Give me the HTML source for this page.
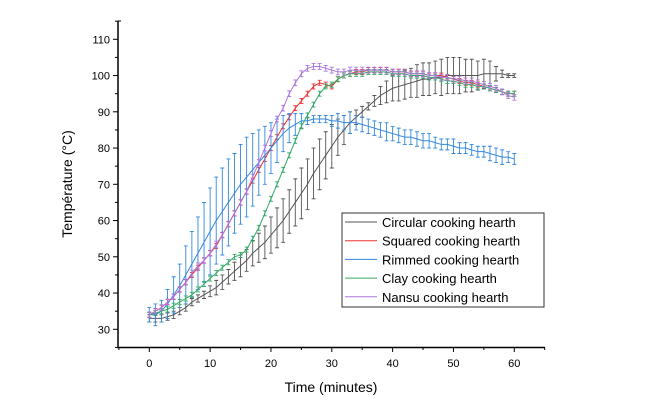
<!DOCTYPE html>
<html><head><meta charset="utf-8"><style>
body{margin:0;background:#fff;}
svg{display:block;font-family:"Liberation Sans",Arial,sans-serif;}
</style></head><body>
<svg id="chart" width="646" height="419" viewBox="0 0 646 419" xmlns="http://www.w3.org/2000/svg">
<g id="plot"></g>
<g id="axes"></g>
<g id="legend"></g>
</svg>
<script>
const times = [];
for (let i = 0; i <= 60; i++) times.push(i);
const seriesNames = ["Circular cooking hearth","Squared cooking hearth","Rimmed cooking hearth","Clay cooking hearth","Nansu cooking hearth"];
const seriesColors = ["#555555","#ee3333","#3388dd","#33aa66","#aa77dd"];
const circular = [33,33,33,33.5,34,35,36,37.5,38.5,39.5,40.5,41.5,43,44.5,46,47.5,49,51,52.5,54,56,58,60,62.5,65,67.5,70,73,75.5,78,80.5,83,85,87,88.5,90,91.5,93,94.5,95.5,96.5,97,97.5,98,98.5,99,99,99.5,99.5,100,100,100,100,100,100,100.5,100.5,100.5,100.5,100,100];
const circularErr = [1,1,1,1,1,1,1,1,1,1,1.5,2,2,2,2.5,3,3,3.5,4,4.5,5,5.5,6,6,6.5,7,7,7,7,6.5,6,5,4,3,2,1.5,1,1.5,2.5,3,3.5,4,4,4,4.5,4.5,4.5,4.5,5,5,5,5,4.5,4.5,4,4,3.5,2,1,0.5,0.5];
const squared = [34,35,36,37.5,39,41,43,45,47,49,51,53,56,59,62,65,68,71,74,77,80,83,86,88.5,91,93,95,97,98,97.5,97,99,100,100.5,101,101,101.5,101.5,101.5,101.5,101,101,101,100.5,100.5,100.5,100,100,100,99.5,99,98.5,98,98,97.5,97,96.5,96,95.5,95,95];
const squaredErr = new Array(61).fill(0.7);
const rimmed = [34,34,35,37,39.5,42,45,48,51,54,57,60,62.5,65,67.5,70,72,74,76,78,80,82,84,85.5,86.5,87.5,87.5,88,88,88,87.5,87.5,87,87,87,86.5,86,85.5,85,84.5,84,83.5,83,83,82.5,82,82,81.5,81,81,80.5,80,80,79.5,79,79,78.5,78,77.5,77.5,77];
const rimmedErr = [2,3,3,4,5,6,8,9,10,11,12,12,12,12,11,11,11,10,9,8,7,6,5,4,3,2,1,1,1,1,1.5,2,2,3,2,2,2,2,2,2.5,2,2,2,2,2,2,2,1.5,1.5,1.5,2,1.5,1.5,1.5,1.5,1.5,2,2,2,1.5,1.5];
const clay = [34,34.5,35,35.5,36.5,37.5,38.5,39.5,41,42.5,44,45.5,47,48.5,50,50.5,52,55,58,62,66,70,74,78,82,86,89,92,95,97,97.5,99,100,100.5,100.5,100.5,101,101,101,101,100.5,100.5,100.5,100,100,100,99.5,99.5,99,98.5,98.5,98,97.5,97.5,97,97,96.5,96,95.5,95,95];
const clayErr = new Array(61).fill(0.7);
const nansu = [34,35,36,37.5,39,41,43,45.5,47.5,49,51,53.5,56,59,62,65,68,72,76,80,84,88,91,95,98,100.5,102,102.5,102.5,102,101.5,101,101,101.5,101.5,101.5,101.5,101.5,101.5,101.5,101,101,101,100.5,100.5,100.5,100,100,99.5,99.5,99,99,98.5,98.5,98,97.5,97,96.5,95.5,94.5,94];
const nansuErr = new Array(61).fill(0.8);
const xTicks = [0,10,20,30,40,50,60];
const yTicks = [30,40,50,60,70,80,90,100,110];

const NS = "http://www.w3.org/2000/svg";
const X = t => 149.3 + t * 6.083;
const Y = v => 329.3 - (v - 30) * 3.625;
function mk(tag, attrs, parent){const e=document.createElementNS(NS,tag);for(const k in attrs)e.setAttribute(k,attrs[k]);parent.appendChild(e);return e;}

const plot = document.getElementById("plot");
const allSeries = [circular, squared, rimmed, clay, nansu];
const allErr = [circularErr, squaredErr, rimmedErr, clayErr, nansuErr];
allSeries.forEach((vals, s) => {
  const g = mk("g", {}, plot);
  
  
  const col = seriesColors[s];
  vals.forEach((v, i) => {
    const e = allErr[s][i], x = X(times[i]);
    const bar = mk("path", {d:`M${x} ${Y(v-e)}V${Y(v+e)}M${x-2} ${Y(v-e)}h4M${x-2} ${Y(v+e)}h4`, stroke:col, "stroke-width":0.9, fill:"none"}, g);
    
    
  });
  const pts = vals.map((v, i) => `${X(times[i])},${Y(v)}`).join(" ");
  const line = mk("polyline", {points:pts, stroke:col, "stroke-width":1, fill:"none"}, g);
  
  
});

const axes = document.getElementById("axes");
mk("path", {d:"M118 21V347.5H545", stroke:"#000", "stroke-width":1.5, fill:"none"}, axes);
mk("path", {d:"M118 21h3", stroke:"#000", "stroke-width":1}, axes);
for (let t = -5; t <= 65; t += 5) {
  const x = X(t);
  mk("line", {x1:x, x2:x, y1:347.5, y2: t % 10 === 0 ? 352 : 350, stroke:"#000", "stroke-width":1}, axes);
}
xTicks.forEach(t => {
  const tx = mk("text", {x:X(t), y:367, "font-size":11, "text-anchor":"middle", fill:"#000"}, axes);
  tx.textContent = t;
  
  
});
for (let v = 25; v <= 115; v += 5) {
  const y = Y(v);
  if (y < 21) continue;
  mk("line", {x1: v % 10 === 0 ? 113 : 115, x2:118, y1:y, y2:y, stroke:"#000", "stroke-width":1}, axes);
}
yTicks.forEach(v => {
  const ty = mk("text", {x:110, y:Y(v)+4, "font-size":11, "text-anchor":"end", fill:"#000"}, axes);
  ty.textContent = v;
  
  
});
const xt = mk("text", {x:331, y:392, "font-size":14, "text-anchor":"middle", fill:"#000"}, axes);
xt.textContent = "Time (minutes)";


const yt = mk("text", {x:0, y:0, "font-size":14, "text-anchor":"middle", fill:"#000", transform:"translate(72,184) rotate(-90)"}, axes);
yt.textContent = "Température (°C)";



const legend = document.getElementById("legend");
mk("rect", {x:342, y:213, width:202, height:94, fill:"#fff", stroke:"#333", "stroke-width":1}, legend);
seriesNames.forEach((n, i) => {
  const y = 222 + i * 18.7;
  const g = mk("g", {}, legend);
  
  
  mk("line", {x1:345, x2:377, y1:y, y2:y, stroke:seriesColors[i], "stroke-width":1}, g);
  const t = mk("text", {x:382, y:y+5, "font-size":13, fill:"#000"}, g);
  t.textContent = n;
});
</script>
</body></html>
